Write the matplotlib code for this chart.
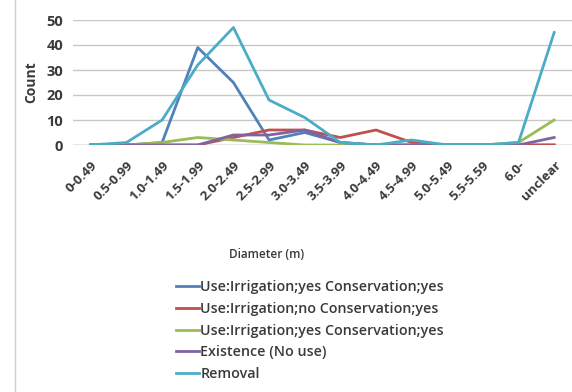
import numpy as np
import matplotlib.pyplot as plt
from matplotlib.lines import Line2D

# -------------------------
# DATA
# -------------------------
diameters = ["0-0.49", "0.5-0.99", "1.0-1.49", "1.5-1.99", "2.0-2.49",
             "2.5-2.99", "3.0-3.49", "3.5-3.99", "4.0-4.49", "4.5-4.99",
             "5.0-5.49", "5.5-5.59", "6.0-", "unclear"]

irr_yes_cons_yes = [0, 0, 1, 39, 25, 2, 5, 1, 0, 0, 0, 0, 0, 0]
irr_no_cons_yes = [0, 0, 0, 0, 3, 6, 6, 3, 6, 1, 0, 0, 0, 0]
irr_yes_cons_yes2 = [0, 0, 1, 3, 2, 1, 0, 0, 0, 0, 0, 0, 1, 10]
existence = [0, 0, 0, 0, 4, 4, 6, 1, 0, 0, 0, 0, 0, 3]
removal = [0, 1, 10, 32, 47, 18, 11, 1, 0, 2, 0, 0, 1, 45]

series_names = ["Use:Irrigation;yes Conservation;yes",
                "Use:Irrigation;no Conservation;yes",
                "Use:Irrigation;yes Conservation;yes",
                "Existence (No use)",
                "Removal"]
series_vals = [irr_yes_cons_yes, irr_no_cons_yes, irr_yes_cons_yes2,
               existence, removal]
colors = ["#4F81BD", "#C0504D", "#9BBB59", "#8064A2", "#4BACC6"]

plt.rcParams['font.family'] = ['Open Sans', 'DejaVu Sans']
txt_color = "#3a3a3a"

fig = plt.figure(figsize=(5.72, 3.92), dpi=100)
ax = fig.add_axes([73 / 572, 1 - 145 / 392, 499 / 572, 125 / 392])

x = np.arange(len(diameters))
for vals, c in zip(series_vals, colors):
    ax.plot(x, vals, color=c, linewidth=2, solid_joinstyle='round')

ax.set_xlim(-0.5, len(diameters) - 0.5)
ax.set_ylim(0, 50)
ax.set_yticks(range(0, 51, 10))
ax.yaxis.grid(True, color="#c8c8c8", linewidth=1)
ax.set_axisbelow(True)
for s in ax.spines.values():
    s.set_visible(False)
ax.axhline(0, color="#b0b0b0", linewidth=1, zorder=0)

ax.tick_params(axis='y', length=0, labelsize=10.5, pad=7, labelcolor=txt_color)
for lab in ax.get_yticklabels():
    lab.set_fontweight('bold')
ax.set_xticks(x)
ax.set_xticklabels(diameters, rotation=45, ha='right', rotation_mode='anchor',
                   fontsize=9.5, color=txt_color, fontweight='bold')
ax.tick_params(axis='x', length=0, pad=10)

ax.set_ylabel("Count", fontsize=10, color=txt_color, fontweight='bold')
ax.yaxis.set_label_coords(-0.07, 0.5)

fig.text(267 / 572, 1 - 254 / 392, "Diameter (m)", ha='center', va='center',
         fontsize=8.5, color=txt_color, fontweight='semibold')

# legend below
handles = [Line2D([0], [0], color=c, linewidth=2) for c in colors]
leg = fig.legend(handles, series_names, loc='upper left',
                 bbox_to_anchor=(163 / 572, 1 - 267 / 392), frameon=False,
                 fontsize=10.3, handlelength=1.6, handletextpad=0.1,
                 labelspacing=0.55, labelcolor=txt_color)
for t in leg.get_texts():
    t.set_fontweight('semibold')

# image border on the left
fig.add_artist(Line2D([15 / 572, 15 / 572], [0, 1], color="#d0d0d0",
                      linewidth=1))

fig.savefig("out.png", dpi=100)
